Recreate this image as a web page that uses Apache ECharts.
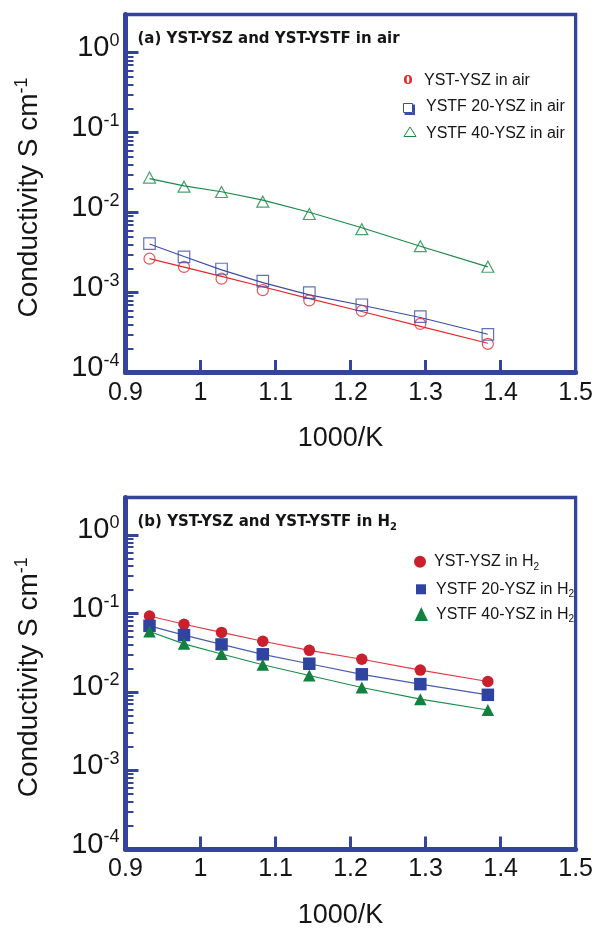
<!DOCTYPE html>
<html>
<head>
<meta charset="utf-8">
<title>Conductivity of YST-YSZ and YST-YSTF</title>
<script src="https://cdn.jsdelivr.net/npm/echarts@6/dist/echarts.min.js"></script>
<style>
  html, body { margin: 0; padding: 0; background: #fff; }
  #chart { width: 596px; height: 930px; }
</style>
</head>
<body>
<div id="chart"></div>
<script>
// Reciprocal temperature, 1000/K (800 down to 450 °C)
const invTemp = [0.932, 0.978, 1.028, 1.083, 1.145, 1.215, 1.293, 1.383];

// (a) conductivity in air, S/cm
const ystYszAir = [0.00265, 0.00209, 0.00149, 0.00107, 0.000797, 0.000589, 0.000405, 0.000228];
const ystf20Air = [0.0041, 0.0028, 0.00197, 0.00139, 0.0010, 0.000704, 0.000501, 0.000299];
const ystf40Air = [0.0274, 0.0211, 0.0181, 0.0137, 0.0096, 0.0062, 0.0038, 0.0021];
// fitted curves for the air data
const ystYszAirFit = [0.00266, 0.00208, 0.00159, 0.00118, 0.000839, 0.000579, 0.000378, 0.000232];
const ystf20AirFit = [0.00405, 0.00282, 0.00192, 0.00133, 0.000933, 0.000693, 0.000487, 0.000301];
const ystf40AirFit = [0.0266, 0.0216, 0.0182, 0.0143, 0.0101, 0.00646, 0.00379, 0.00209];

// (b) conductivity in H2, S/cm
const ystYszH2 = [0.0928, 0.0729, 0.0574, 0.0443, 0.0339, 0.0261, 0.0190, 0.0136];
const ystf20H2 = [0.0696, 0.0531, 0.0403, 0.0302, 0.0229, 0.0168, 0.0126, 0.0092];
const ystf40H2 = [0.0590, 0.0410, 0.0305, 0.0222, 0.0162, 0.0114, 0.0081, 0.0059];

// axis ticks
const xTicks = [0.9, 1.0, 1.1, 1.2, 1.3, 1.4, 1.5];
const xTickLabels = ['0.9', '1', '1.1', '1.2', '1.3', '1.4', '1.5'];
const yMajorTicks = [1e-4, 1e-3, 1e-2, 1e-1, 1];
const yTickExponents = ['-4', '-3', '-2', '-1', '0'];
const yMinorTicks = [
  2e-4, 3e-4, 4e-4, 5e-4, 6e-4, 7e-4, 8e-4, 9e-4,
  2e-3, 3e-3, 4e-3, 5e-3, 6e-3, 7e-3, 8e-3, 9e-3,
  2e-2, 3e-2, 4e-2, 5e-2, 6e-2, 7e-2, 8e-2, 9e-2,
  2e-1, 3e-1, 4e-1, 5e-1, 6e-1, 7e-1, 8e-1, 9e-1
];
const yMin = 1e-4, yMax = 3;

const FRAME = '#34449a';
const INK = '#151515';
const SANS = '"Liberation Sans", Arial, sans-serif';

const pairs = (ys) => invTemp.map((x, i) => [x, ys[i]]);

function xAxisFor(gridIndex) {
  return {
    type: 'value', gridIndex, min: 0.9, max: 1.5, position: 'bottom',
    splitLine: { show: false },
    axisLine: { lineStyle: { color: FRAME, width: 5 } },
    axisTick: { inside: true, length: 12.5, customValues: xTicks, lineStyle: { color: FRAME, width: 3 } },
    axisLabel: {
      customValues: xTicks, margin: 8, color: INK, fontFamily: SANS, fontSize: 25,
      formatter: (v) => {
        const i = xTicks.findIndex(t => Math.abs(t - v) < 1e-6);
        return i >= 0 ? xTickLabels[i] : '';
      }
    },
    name: '1000/K', nameLocation: 'middle', nameGap: 53,
    nameTextStyle: { color: INK, fontFamily: SANS, fontSize: 27, padding: [0, 20, 0, 0] }
  };
}

function yAxesFor(gridIndex) {
  return [{
    type: 'log', gridIndex, min: yMin, max: yMax, logBase: 10, position: 'left',
    splitLine: { show: false },
    axisLine: { lineStyle: { color: FRAME, width: 5 } },
    axisTick: { inside: true, length: 13, customValues: yMajorTicks, lineStyle: { color: FRAME, width: 3 } },
    axisLabel: {
      customValues: yMajorTicks, margin: 6, padding: [0, 0, 9, 0],
      formatter: (v) => {
        const i = yMajorTicks.findIndex(t => Math.abs(Math.log10(t / v)) < 1e-6);
        return i >= 0 ? '{b|10}{s|' + yTickExponents[i] + '}' : '';
      },
      rich: {
        b: { fontSize: 29, fontFamily: SANS, color: INK, lineHeight: 32 },
        s: { fontSize: 18, fontFamily: SANS, color: INK, lineHeight: 17, verticalAlign: 'top' }
      }
    },
    name: 'Conductivity S cm{s|-1}', nameLocation: 'middle', nameGap: 80,
    nameTextStyle: {
      fontSize: 28, fontFamily: SANS, color: INK, lineHeight: 32, padding: [0, 8, 0, 0],
      rich: { s: { fontSize: 18, fontFamily: SANS, color: INK, lineHeight: 17, verticalAlign: 'top' } }
    }
  }, {
    type: 'log', gridIndex, min: yMin, max: yMax, logBase: 10, position: 'left', offset: 0,
    splitLine: { show: false },
    axisLine: { show: false },
    axisTick: { inside: true, length: 8, customValues: yMinorTicks, lineStyle: { color: FRAME, width: 2 } },
    axisLabel: { show: false }
  }];
}

const RED_A = '#e8262c', BLUE_A = '#3c4ea3', GREEN_A = '#1b8a47';
const RED_B = '#c9202e', BLUE_B = '#2f44a0', GREEN_B = '#12813f';
const RED_BL = '#e03a44', BLUE_BL = '#4a5cb0', GREEN_BL = '#1d8c4a';

function fitLine(data, color) {
  return {
    type: 'line', xAxisIndex: 0, yAxisIndex: 0, data: pairs(data),
    symbol: 'none', lineStyle: { color, width: 1.2 }, z: 2, silent: true
  };
}
function openMarks(data, symbol, size, color) {
  return {
    type: 'scatter', xAxisIndex: 0, yAxisIndex: 0, data: pairs(data),
    symbol, symbolSize: size,
    itemStyle: { color: 'rgba(255,255,255,0)', borderColor: color, borderWidth: 1.2 }, z: 3
  };
}
function filledLine(data, symbol, size, color, lineColor) {
  return {
    type: 'line', xAxisIndex: 1, yAxisIndex: 2, data: pairs(data),
    symbol, symbolSize: size, showSymbol: true,
    itemStyle: { color, borderWidth: 0 },
    lineStyle: { color: lineColor, width: 1.2 }, z: 3
  };
}

const legendText = (x, y, text, rich) => ({
  type: 'text', x, y, silent: true,
  style: {
    text, fill: INK, font: '16px ' + SANS, verticalAlign: 'middle', align: 'left',
    lineHeight: 20, rich
  }
});
const subRich = { sub: { fontSize: 10, fontFamily: SANS, fill: INK, lineHeight: 10, verticalAlign: 'bottom' } };

const graphics = [
  // panel titles
  { type: 'text', x: 137.5, y: 39, silent: true,
    style: { text: '(a) YST-YSZ and YST-YSTF in air', fill: INK, font: 'bold 15px "DejaVu Sans"',
             verticalAlign: 'middle', align: 'left' } },
  { type: 'text', x: 137.5, y: 522, silent: true,
    style: { text: '(b) YST-YSZ and YST-YSTF in H{sub|2}', fill: INK, font: 'bold 15px "DejaVu Sans"',
             verticalAlign: 'middle', align: 'left', lineHeight: 20,
             rich: { sub: { fontSize: 10, fontWeight: 'bold', fontFamily: 'DejaVu Sans', fill: INK,
                            lineHeight: 10, verticalAlign: 'bottom' } } } },

  // legend, panel (a)
  { type: 'text', x: 408, y: 79, silent: true,
    style: { text: 'o', fill: RED_A, font: 'bold 19px "Liberation Serif"', align: 'center', verticalAlign: 'middle' } },
  legendText(424, 80.5, 'YST-YSZ in air'),
  { type: 'rect', silent: true, shape: { x: 403.5, y: 103.5, width: 9, height: 9 },
    style: { fill: 'none', stroke: BLUE_A, lineWidth: 1 } },
  { type: 'polyline', silent: true, shape: { points: [[404.5, 114], [414, 114], [414, 104.5]] },
    style: { fill: 'none', stroke: BLUE_A, lineWidth: 2 } },
  legendText(426, 107, 'YSTF 20-YSZ in air'),
  { type: 'polygon', silent: true, shape: { points: [[410, 127], [416, 136.5], [404, 136.5]] },
    style: { fill: 'none', stroke: GREEN_A, lineWidth: 1 } },
  legendText(426, 133.5, 'YSTF 40-YSZ in air'),

  // legend, panel (b)
  { type: 'circle', silent: true, shape: { cx: 420, cy: 561.7, r: 6 }, style: { fill: RED_B } },
  legendText(434, 562, 'YST-YSZ in H{sub|2}', subRich),
  { type: 'rect', silent: true, shape: { x: 416, y: 584.3, width: 10, height: 10 }, style: { fill: BLUE_B } },
  legendText(436, 589.5, 'YSTF 20-YSZ in H{sub|2}', subRich),
  { type: 'polygon', silent: true, shape: { points: [[421.3, 607], [428, 621], [414.6, 621]] },
    style: { fill: GREEN_B } },
  legendText(436, 614.5, 'YSTF 40-YSZ in H{sub|2}', subRich)
];

const chart = echarts.init(document.getElementById('chart'), null, { renderer: 'canvas' });

const topY = yAxesFor(0);
const botY = yAxesFor(1);

chart.setOption({
  animation: false,
  backgroundColor: '#fff',
  grid: [
    { left: 125.5, right: 20.3, top: 14.5, height: 358, show: true,
      borderColor: FRAME, borderWidth: 3.3, backgroundColor: 'transparent' },
    { left: 125.5, right: 20.3, top: 497.5, height: 358, show: true,
      borderColor: FRAME, borderWidth: 3.3, backgroundColor: 'transparent' }
  ],
  xAxis: [xAxisFor(0), xAxisFor(1)],
  yAxis: [topY[0], topY[1], botY[0], botY[1]],
  series: [
    fitLine(ystYszAirFit, RED_A),
    fitLine(ystf20AirFit, BLUE_A),
    fitLine(ystf40AirFit, GREEN_A),
    openMarks(ystYszAir, 'circle', 11, RED_A),
    openMarks(ystf20Air, 'rect', 11.5, BLUE_A),
    openMarks(ystf40Air, 'triangle', [12, 11], GREEN_A),
    filledLine(ystYszH2, 'circle', 11.5, RED_B, RED_BL),
    filledLine(ystf20H2, 'rect', 12.5, BLUE_B, BLUE_BL),
    filledLine(ystf40H2, 'triangle', [12.5, 12], GREEN_B, GREEN_BL)
  ],
  graphic: graphics
});
</script>
</body>
</html>
